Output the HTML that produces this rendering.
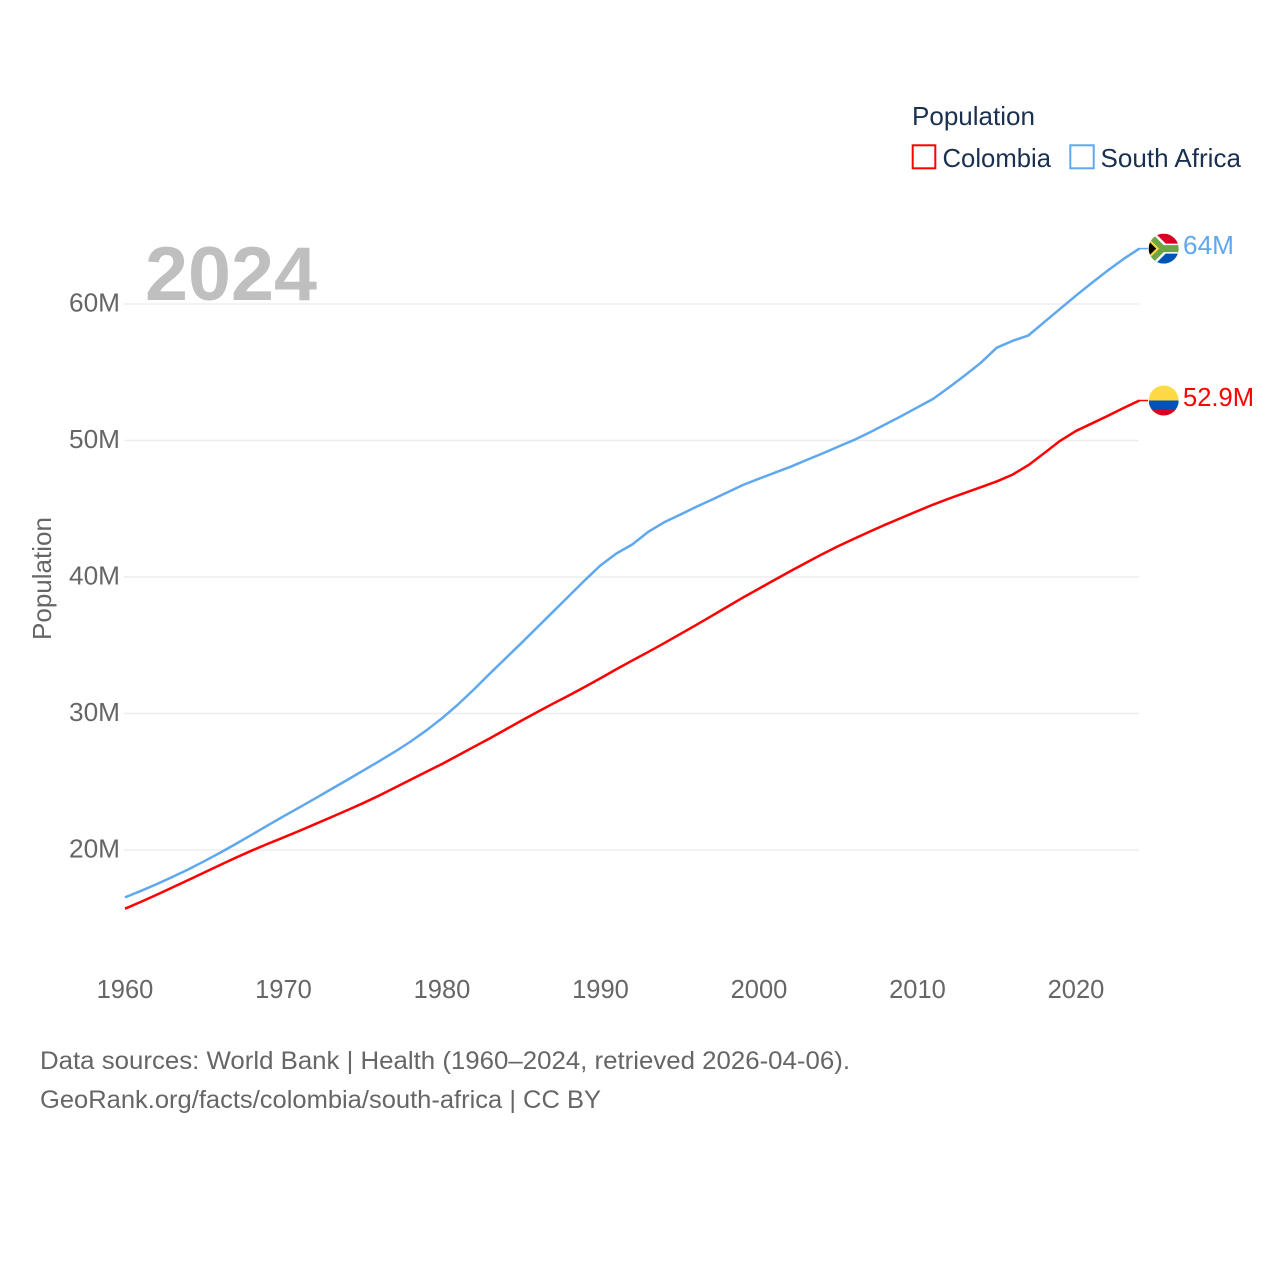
<!DOCTYPE html>
<html lang="en">
<head>
<meta charset="utf-8">
<title>Population: Colombia vs South Africa</title>
<style>
  html, body { margin: 0; padding: 0; background: #fff; }
  body { width: 1280px; height: 1280px; overflow: hidden; }
  svg { display: block; font-family: "Liberation Sans", sans-serif; }
</style>
</head>
<body>
<svg id="chart" xmlns="http://www.w3.org/2000/svg" width="1280" height="1280" viewBox="0 0 1280 1280">
  <defs>
    <clipPath id="flag-clip"><circle cx="0" cy="0" r="15"></circle></clipPath>
  </defs>
  <rect x="0" y="0" width="1280" height="1280" fill="#ffffff"></rect>
  <g id="grid"></g>
  <text x="145" y="300" font-size="76" font-weight="700" fill="#bfbfbf" textLength="172" lengthAdjust="spacingAndGlyphs">2024</text>
  <g id="y-axis"></g>
  <g id="x-axis"></g>
  <text transform="translate(51,640) rotate(-90)" font-size="26" fill="#666666" textLength="123" lengthAdjust="spacingAndGlyphs">Population</text>
  <g id="series"></g>
  <g id="end-markers"></g>

  <g>
    <text x="912" y="125" font-size="26" fill="#1a3050" textLength="123" lengthAdjust="spacingAndGlyphs">Population</text>
    <g>
      <rect x="912.7" y="145.3" width="22.6" height="23" fill="#ffffff" stroke="#ff0000" stroke-width="2"></rect>
      <text x="942.5" y="167" font-size="26" fill="#1a3050" textLength="108.5" lengthAdjust="spacingAndGlyphs">Colombia</text>
    </g>
    <g>
      <rect x="1070.3" y="145.3" width="23.4" height="23" fill="#ffffff" stroke="#5fa8ef" stroke-width="2"></rect>
      <text x="1100.5" y="167" font-size="26" fill="#1a3050" textLength="140.5" lengthAdjust="spacingAndGlyphs">South Africa</text>
    </g>
  </g>

  <g>
    <text x="40" y="1069" font-size="25" fill="#666666" textLength="810" lengthAdjust="spacingAndGlyphs">Data sources: World Bank | Health (1960–2024, retrieved 2026-04-06).</text>
    <text x="40" y="1108" font-size="25" fill="#666666" textLength="561" lengthAdjust="spacingAndGlyphs">GeoRank.org/facts/colombia/south-africa | CC BY</text>
  </g>
</svg>

<script>
var startYear = 1960;
var colombiaValues = [
  15.7, 16.2, 16.72, 17.26, 17.8, 18.35, 18.9, 19.44, 19.96, 20.45,
  20.92, 21.4, 21.9, 22.4, 22.9, 23.42, 23.97, 24.55, 25.14, 25.72,
  26.3, 26.92, 27.55, 28.17, 28.82, 29.47, 30.1, 30.72, 31.32, 31.94,
  32.58, 33.24, 33.88, 34.5, 35.14, 35.8, 36.46, 37.14, 37.82, 38.5,
  39.15, 39.8, 40.44, 41.06, 41.68, 42.26, 42.8, 43.33, 43.85, 44.34,
  44.83, 45.31, 45.75, 46.17, 46.58, 47.0, 47.5, 48.2, 49.08, 49.98,
  50.7, 51.25, 51.8, 52.38, 52.93
];
var southAfricaValues = [
  16.53, 17.0, 17.5, 18.03, 18.58, 19.18, 19.8, 20.45, 21.12, 21.8,
  22.47, 23.12, 23.78, 24.45, 25.12, 25.8, 26.48, 27.18, 27.93, 28.75,
  29.65, 30.65, 31.75, 32.9, 34.03, 35.15, 36.3, 37.45, 38.6, 39.75,
  40.85, 41.72, 42.38, 43.3, 44.0, 44.55, 45.12, 45.65, 46.2, 46.75,
  47.2, 47.64, 48.08, 48.57, 49.05, 49.55, 50.04, 50.6, 51.2, 51.8,
  52.43, 53.06, 53.9, 54.78, 55.7, 56.8, 57.3, 57.7, 58.68, 59.65,
  60.62, 61.55, 62.45, 63.3, 64.06
];
var yTickValues = [20, 30, 40, 50, 60];
var yTickLabels = ["20M", "30M", "40M", "50M", "60M"];
var xTickValues = [1960, 1970, 1980, 1990, 2000, 2010, 2020];
var xTickLabels = ["1960", "1970", "1980", "1990", "2000", "2010", "2020"];
var colombiaEndLabel = "52.9M";
var southAfricaEndLabel = "64M";

var NS = "http://www.w3.org/2000/svg";

function xScale(year) { return 125 + (year - 1960) * 15.85; }
function yScale(value) { return 850 - (value - 20) * 13.65; }

function make(tag, parent) {
  var el = document.createElementNS(NS, tag);
  parent.appendChild(el);
  return el;
}

function setAll(el, props) {
  for (var k in props) { el.setAttribute(k, props[k]); }
}

var gridGroup = document.getElementById("grid");
var yAxisGroup = document.getElementById("y-axis");
var xAxisGroup = document.getElementById("x-axis");
var seriesGroup = document.getElementById("series");
var markerGroup = document.getElementById("end-markers");

yTickValues.forEach(function (v, i) {
  var line = make("line", gridGroup);
  setAll(line, { x1: 124, x2: 1139, y1: yScale(v), y2: yScale(v), stroke: "#eeeeee", "stroke-width": 1.5 });
  
  

  var label = make("text", yAxisGroup);
  setAll(label, { x: 120, y: yScale(v) + 7.5, "text-anchor": "end", "font-size": 25.5, fill: "#666666", textLength: 51, lengthAdjust: "spacingAndGlyphs" });
  label.textContent = yTickLabels[i];
  
  
});

xTickValues.forEach(function (v, i) {
  var label = make("text", xAxisGroup);
  setAll(label, { x: xScale(v), y: 998, "text-anchor": "middle", "font-size": 25.5, fill: "#666666" });
  label.textContent = xTickLabels[i];
  
  
});

function pathFor(values) {
  var d = "";
  for (var i = 0; i < values.length; i++) {
    d += (i === 0 ? "M" : "L") + xScale(startYear + i).toFixed(2) + " " + yScale(values[i]).toFixed(2);
  }
  return d;
}

var southAfricaLine = make("path", seriesGroup);
setAll(southAfricaLine, { d: pathFor(southAfricaValues), fill: "none", stroke: "#5fa8ef", "stroke-width": 2.5, "stroke-linejoin": "round" });



var colombiaLine = make("path", seriesGroup);
setAll(colombiaLine, { d: pathFor(colombiaValues), fill: "none", stroke: "#ff0000", "stroke-width": 2.5, "stroke-linejoin": "round" });



function shape(tag, parent, props) {
  var el = make(tag, parent);
  setAll(el, props);
  return el;
}

function drawColombiaFlag(g) {
  shape("rect", g, { x: -15, y: -15, width: 30, height: 15, fill: "#ffda44" });
  shape("rect", g, { x: -15, y: 0, width: 30, height: 8.5, fill: "#0052b4" });
  shape("rect", g, { x: -15, y: 8.5, width: 30, height: 6.5, fill: "#d80027" });
}

function drawSouthAfricaFlag(g) {
  shape("rect", g, { x: -15, y: -15, width: 30, height: 15, fill: "#d80027" });
  shape("rect", g, { x: -15, y: 0, width: 30, height: 15, fill: "#0052b4" });
  shape("polygon", g, { points: "-15,-15 -8,-15 2,-5 15,-5 15,5 2,5 -8,15 -15,15", fill: "#ffffff" });
  shape("polygon", g, { points: "-15,-15 -11.5,-15 0,-3.5 15,-3.5 15,3.5 0,3.5 -11.5,15 -15,15", fill: "#6da544" });
  shape("polygon", g, { points: "-15,-10.5 -4.5,0 -15,10.5", fill: "#ffda44" });
  shape("polygon", g, { points: "-15,-7.5 -7.5,0 -15,7.5", fill: "#000000" });
}

function drawEndMarker(values, labelText, labelWidth, color, drawFlag, flagName, stubName, labelName) {
  var last = values[values.length - 1];
  var yEnd = yScale(last);

  var stub = make("line", markerGroup);
  setAll(stub, { x1: 1139, x2: 1148, y1: yEnd, y2: yEnd, stroke: color, "stroke-width": 1.5 });
  
  

  var flag = make("g", markerGroup);
  setAll(flag, { transform: "translate(1163.7," + yEnd + ")", "clip-path": "url(#flag-clip)" });
  
  
  drawFlag(flag);

  var label = make("text", markerGroup);
  setAll(label, { x: 1183, y: yEnd + 5.5, "font-size": 25.5, fill: color, textLength: labelWidth, lengthAdjust: "spacingAndGlyphs" });
  label.textContent = labelText;
  
  
}

drawEndMarker(southAfricaValues, southAfricaEndLabel, 51, "#5fa8ef", drawSouthAfricaFlag, "flag-south-africa", "end-stub-south-africa", "end-label-south-africa");
drawEndMarker(colombiaValues, colombiaEndLabel, 71, "#ff0000", drawColombiaFlag, "flag-colombia", "end-stub-colombia", "end-label-colombia");
</script>
</body>
</html>
